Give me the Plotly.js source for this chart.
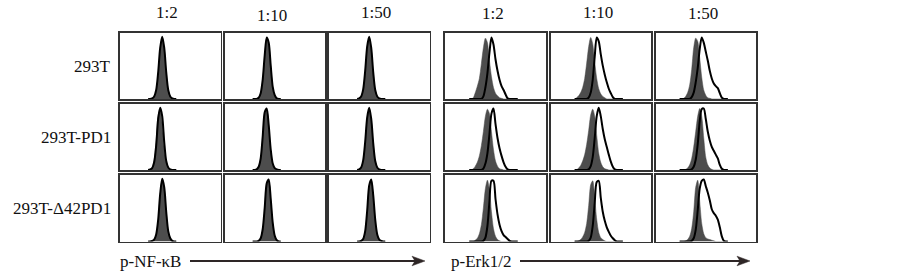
<!DOCTYPE html>
<html>
<head>
<meta charset="utf-8">
<script src="https://cdn.plot.ly/plotly-3.0.1.min.js"></script>
<style>
html,body{margin:0;padding:0;background:#fff;}
#chart{width:903px;height:275px;}
</style>
</head>
<body>
<div id="chart"></div>
<script>
// ---------- data ----------
const rowLabels = ["293T", "293T-PD1", "293T-\u039442PD1"];
const dilutions = ["1:2", "1:10", "1:50"];
const markerLabels = ["p-NF-\u03baB", "p-Erk1/2"];

// fluorescence bins (relative units across each panel)
const nfkbBins = [28,30,32,34,36,38,40,42,44,46,48,50,52,54,56];
const erkBins  = [24,26,28,30,32,34,36,38,40,42,44,46,48,50,52,54,56,58,60,62,64,66,68,70,72];

// p-NF-kB histograms (gray = filled control, black = outline)
const nfkb_293T_1to2_gray   = [0,0,1,3,12,38,76,96,78,40,13,4,1,0,0];
const nfkb_293T_1to2_black  = [0,0,1,4,14,42,80,97,80,42,14,4,1,0,0];
const nfkb_293T_1to10_gray  = [0,0,0,2,8,28,66,94,86,50,18,5,1,0,0];
const nfkb_293T_1to10_black = [0,0,0,2,9,30,68,96,88,52,19,6,1,0,0];
const nfkb_293T_1to50_gray  = [0,1,4,14,42,80,96,78,40,13,4,1,0,0,0];
const nfkb_293T_1to50_black = [0,1,4,15,44,82,97,80,42,14,4,1,0,0,0];

const nfkb_PD1_1to2_gray    = [0,1,4,16,46,86,95,72,34,11,3,1,0,0,0];
const nfkb_PD1_1to2_black   = [0,1,3,12,38,80,97,84,44,14,4,1,0,0,0];
const nfkb_PD1_1to10_gray   = [0,0,1,5,18,50,88,94,66,30,9,2,0,0,0];
const nfkb_PD1_1to10_black  = [0,0,1,5,18,52,90,96,70,32,10,3,1,0,0];
const nfkb_PD1_1to50_gray   = [0,1,4,14,42,80,96,78,40,13,4,1,0,0,0];
const nfkb_PD1_1to50_black  = [0,1,4,15,44,82,97,80,42,14,4,1,0,0,0];

const nfkb_d42_1to2_gray    = [0,0,1,3,10,32,72,96,82,44,15,4,1,0,0];
const nfkb_d42_1to2_black   = [0,0,1,3,11,34,74,97,84,46,16,5,1,0,0];
const nfkb_d42_1to10_gray   = [0,0,0,1,5,18,50,88,94,64,28,8,2,0,0];
const nfkb_d42_1to10_black  = [0,0,0,1,5,19,52,90,96,66,29,9,2,0,0];
const nfkb_d42_1to50_gray   = [0,0,1,4,15,46,85,95,70,32,10,3,1,0,0];
const nfkb_d42_1to50_black  = [0,0,1,4,16,48,87,96,72,34,11,3,1,0,0];

// p-Erk1/2 histograms                      24 26 28 30 32 34 36 38 40 42 44 46 48 50 52 54 56 58 60 62 64 66 68 70 72
const erk_293T_1to2_gray   = [0,0,2,10,20,32,55,80,95,88,60,35,18,9,5,2,1,0,0,0,0,0,0,0,0];
const erk_293T_1to2_black  = [0,0,0,0,0,0,0,4,18,40,72,96,85,62,44,30,20,14,7,1,0,0,0,0,0];
const erk_293T_1to10_gray  = [0,2,5,10,18,32,56,82,96,86,58,32,16,8,4,2,0,0,0,0,0,0,0,0,0];
const erk_293T_1to10_black = [0,0,0,0,0,0,0,2,10,30,66,96,90,70,52,38,26,16,9,3,0,0,0,0,0];
const erk_293T_1to50_gray  = [0,0,1,4,10,22,46,80,95,90,64,34,14,6,2,1,0,0,0,0,0,0,0,0,0];
const erk_293T_1to50_black = [0,0,0,0,0,0,3,10,26,48,78,96,88,74,60,44,32,24,20,17,9,2,0,0,0];

const erk_PD1_1to2_gray    = [0,0,2,6,12,22,38,60,84,95,88,60,32,14,6,2,1,0,0,0,0,0,0,0,0];
const erk_PD1_1to2_black   = [0,0,0,0,0,0,0,2,10,26,56,88,96,72,50,34,22,12,5,1,0,0,0,0,0];
const erk_PD1_1to10_gray   = [0,0,3,7,14,24,40,62,86,95,84,54,26,12,5,2,1,0,0,0,0,0,0,0,0];
const erk_PD1_1to10_black  = [0,0,0,0,0,0,0,1,6,20,50,84,97,84,64,48,36,24,13,5,1,0,0,0,0];
const erk_PD1_1to50_gray   = [0,0,0,1,3,8,18,36,60,84,96,84,50,20,8,3,1,0,0,0,0,0,0,0,0];
const erk_PD1_1to50_black  = [0,0,0,0,0,0,1,5,16,40,76,95,96,80,60,46,36,30,24,18,8,2,0,0,0];

const erk_d42_1to2_gray    = [0,0,0,2,5,12,26,52,82,95,80,46,20,8,3,1,0,0,0,0,0,0,0,0,0];
const erk_d42_1to2_black   = [0,0,0,0,0,0,0,1,6,24,62,94,94,66,42,26,16,10,7,4,1,0,0,0,0];
const erk_d42_1to10_gray   = [0,0,1,3,7,14,28,56,88,94,68,34,14,6,3,1,0,0,0,0,0,0,0,0,0];
const erk_d42_1to10_black  = [0,0,0,0,0,0,0,1,6,24,60,92,94,68,46,32,22,15,9,5,2,0,0,0,0];
const erk_d42_1to50_gray   = [0,0,0,1,3,8,20,46,84,95,62,28,12,6,4,3,2,1,0,0,0,0,0,0,0];
const erk_d42_1to50_black  = [0,0,0,0,0,0,1,5,18,48,82,94,96,86,76,64,50,44,40,34,22,8,1,0,0];

// ---------- assembly ----------
const panelData = [
  [[nfkb_293T_1to2_gray,nfkb_293T_1to2_black],[nfkb_293T_1to10_gray,nfkb_293T_1to10_black],[nfkb_293T_1to50_gray,nfkb_293T_1to50_black],
   [erk_293T_1to2_gray,erk_293T_1to2_black],[erk_293T_1to10_gray,erk_293T_1to10_black],[erk_293T_1to50_gray,erk_293T_1to50_black]],
  [[nfkb_PD1_1to2_gray,nfkb_PD1_1to2_black],[nfkb_PD1_1to10_gray,nfkb_PD1_1to10_black],[nfkb_PD1_1to50_gray,nfkb_PD1_1to50_black],
   [erk_PD1_1to2_gray,erk_PD1_1to2_black],[erk_PD1_1to10_gray,erk_PD1_1to10_black],[erk_PD1_1to50_gray,erk_PD1_1to50_black]],
  [[nfkb_d42_1to2_gray,nfkb_d42_1to2_black],[nfkb_d42_1to10_gray,nfkb_d42_1to10_black],[nfkb_d42_1to50_gray,nfkb_d42_1to50_black],
   [erk_d42_1to2_gray,erk_d42_1to2_black],[erk_d42_1to10_gray,erk_d42_1to10_black],[erk_d42_1to50_gray,erk_d42_1to50_black]]
];

const W = 903, H = 275;
const colPx = [[120,220.5],[224.5,325],[329,429.5],[445,546],[550.5,651],[655.5,756]];
const rowPx = [[33,99],[104,170],[175,241.5]];

const FONT = "'Liberation Serif', 'Times New Roman', Times, serif";
const traces = [];
const layout = {
  width: W, height: H,
  margin: {l:0, r:0, t:0, b:0},
  paper_bgcolor: "#fff", plot_bgcolor: "#fff",
  font: {family: FONT},
  showlegend: false,
  annotations: [], shapes: []
};

let n = 0;
for (let r = 0; r < 3; r++) {
  for (let c = 0; c < 6; c++) {
    n++;
    const xa = "xaxis" + (n === 1 ? "" : n), ya = "yaxis" + (n === 1 ? "" : n);
    const xr = "x" + (n === 1 ? "" : n), yr = "y" + (n === 1 ? "" : n);
    const bins = c < 3 ? nfkbBins : erkBins;
    const [g, b] = panelData[r][c];
    traces.push({x: bins, y: g, xaxis: xr, yaxis: yr, type: "scatter", mode: "lines",
      line: {color: "#4d4d4d", width: 0.5, shape: "spline", smoothing: 0.8},
      fill: "tozeroy", fillcolor: "#4d4d4d", hoverinfo: "skip"});
    traces.push({x: bins, y: b, xaxis: xr, yaxis: yr, type: "scatter", mode: "lines",
      line: {color: "#000000", width: 2, shape: "spline", smoothing: 0.8}, hoverinfo: "skip"});
    const axCommon = {showgrid: false, zeroline: false, showticklabels: false, ticks: "",
      showline: true, mirror: true, linecolor: "#333333", linewidth: 1.6, fixedrange: true};
    layout[xa] = Object.assign({}, axCommon, {domain: [colPx[c][0]/W, colPx[c][1]/W], range: [0, 100], anchor: yr});
    layout[ya] = Object.assign({}, axCommon, {domain: [1 - rowPx[r][1]/H, 1 - rowPx[r][0]/H], range: [0, 103], anchor: xr});
  }
}

// column titles
const titleY = [13, 15, 13, 14, 13, 14];
for (let c = 0; c < 6; c++) {
  layout.annotations.push({text: dilutions[c % 3], xref: "paper", yref: "paper",
    x: (colPx[c][0] + colPx[c][1]) / 2 / W - 3/W, y: 1 - titleY[c]/H,
    xanchor: "center", yanchor: "middle", showarrow: false,
    font: {family: FONT, size: 17, color: "#111"}});
}
// row labels
for (let r = 0; r < 3; r++) {
  layout.annotations.push({text: rowLabels[r], xref: "paper", yref: "paper",
    x: 112.5/W, y: 1 - ((rowPx[r][0] + rowPx[r][1]) / 2)/H,
    xanchor: "right", yanchor: "middle", showarrow: false,
    font: {family: FONT, size: 17, color: "#111"}});
}
// bottom marker labels + arrows
const markerX = [118, 449];
const arrowSpan = [[190, 425], [520, 750]];
const arrowY = 261;
for (let i = 0; i < 2; i++) {
  layout.annotations.push({text: markerLabels[i], xref: "paper", yref: "paper",
    x: markerX[i]/W, y: 1 - 261.5/H, xanchor: "left", yanchor: "middle", showarrow: false,
    font: {family: FONT, size: 17, color: "#111"}});
  const [a0, a1] = arrowSpan[i];
  const col = "#2e2626";
  layout.shapes.push({type: "line", xref: "paper", yref: "paper",
    x0: a0/W, x1: (a1-8)/W, y0: 1 - arrowY/H, y1: 1 - arrowY/H,
    line: {color: col, width: 2}});
  const p = (x, y) => (x/W).toFixed(5) + "," + (1 - y/H).toFixed(5);
  layout.shapes.push({type: "path", xref: "paper", yref: "paper",
    path: "M" + p(a1, arrowY) + " L" + p(a1-13, arrowY-4.8) + " L" + p(a1-10, arrowY) + " L" + p(a1-13, arrowY+4.8) + " Z",
    fillcolor: col, line: {color: col, width: 0.5}});
}

Plotly.newPlot("chart", traces, layout, {staticPlot: true, displayModeBar: false});
</script>
</body>
</html>
